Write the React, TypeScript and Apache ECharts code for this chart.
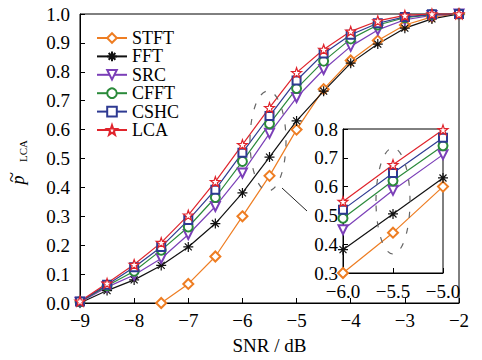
import React, { useEffect, useRef } from "react";
import * as echarts from "echarts";

const snr = [-9, -8.5, -8, -7.5, -7, -6.5, -6, -5.5, -5, -4.5, -4, -3.5, -3, -2.5, -2];
const stft = [null, null, null, 0.0, 0.066, 0.161, 0.3, 0.44, 0.6, 0.74, 0.839, 0.908, 0.962, 0.99, 1.0];
const fft = [0.0, 0.043, 0.08, 0.13, 0.194, 0.275, 0.381, 0.505, 0.63, 0.733, 0.83, 0.896, 0.951, 0.983, 1.0];
const src = [0.003, 0.055, 0.097, 0.154, 0.237, 0.334, 0.45, 0.587, 0.711, 0.808, 0.888, 0.945, 0.98, 0.995, 1.0];
const cfft = [0.004, 0.06, 0.11, 0.183, 0.263, 0.365, 0.49, 0.62, 0.742, 0.837, 0.914, 0.962, 0.987, 0.998, 1.0];
const cshc = [0.005, 0.063, 0.124, 0.194, 0.287, 0.392, 0.52, 0.647, 0.77, 0.863, 0.928, 0.968, 0.99, 0.999, 1.0];
const lca = [0.006, 0.068, 0.133, 0.209, 0.304, 0.42, 0.548, 0.676, 0.797, 0.877, 0.94, 0.976, 0.995, 1.0, 1.0];

const mainYTicks = [0, 1, 0.1];
const mainXTicks = [-9, -2, 1];
const insetXTicks = [-6, -5, 0.5];
const insetYTicks = [0.3, 0.8, 0.1];

const FONT = "'Liberation Serif', 'Times New Roman', serif";
const FS = 19;

const starPath =
  "path://M0,-1L0.235,-0.324L0.951,-0.309L0.38,0.124L0.588,0.809L0,0.4L-0.588,0.809L-0.38,0.124L-0.951,-0.309L-0.235,-0.324Z";
const asteriskPath = "path://M0,-1L0,1M-1,0L1,0M-0.7,-0.7L0.7,0.7M-0.7,0.7L0.7,-0.7";

const defs = [
  { name: "STFT", data: stft, color: "#EE7D22", symbol: "emptyDiamond", size: 10, rotate: 0, fill: null },
  { name: "FFT", data: fft, color: "#111111", symbol: asteriskPath, size: 10, rotate: 0, fill: "#111111" },
  { name: "SRC", data: src, color: "#7B3FB8", symbol: "emptyTriangle", size: 9, rotate: 180, fill: null },
  { name: "CFFT", data: cfft, color: "#2A8A3A", symbol: "emptyCircle", size: 9, rotate: 0, fill: null },
  { name: "CSHC", data: cshc, color: "#2E3A92", symbol: "emptyRect", size: 8, rotate: 0, fill: null },
  { name: "LCA", data: lca, color: "#E0242C", symbol: starPath, size: 10, rotate: 0, fill: "#ffffff" },
];

const minus = (s: string) => s.replace("-", "\u2212");

const rotText = (text: string, x: number, y: number, font: string) => ({
  type: "text",
  x,
  y,
  rotation: Math.PI / 2,
  style: {
    text,
    font,
    fill: "#000",
    align: "center",
    verticalAlign: "middle",
  },
  z: 10,
});

export default function App() {
  const ref = useRef<HTMLDivElement>(null);
  useEffect(() => {
    document.body.style.margin = "0";
    if (!ref.current) return;
    const chart = echarts.init(ref.current, undefined, { renderer: "svg" });

    const pairs = (arr: (number | null)[]) =>
      snr.map((x, i) => [x, arr[i]]).filter((p) => p[1] !== null);
    const insetPairs = (arr: (number | null)[]) =>
      pairs(arr).filter((p) => (p[0] as number) >= insetXTicks[0] && (p[0] as number) <= insetXTicks[1]);

    const mkSeries = (d: any, inset: boolean) => ({
      type: "line",
      name: d.name,
      xAxisIndex: inset ? 1 : 0,
      yAxisIndex: inset ? 1 : 0,
      data: inset ? insetPairs(d.data) : pairs(d.data),
      symbol: d.symbol,
      symbolSize: d.size,
      symbolRotate: d.rotate,
      showAllSymbol: true,
      clip: false,
      lineStyle: { color: d.color, width: 1.2 },
      itemStyle: d.fill
        ? { color: d.fill, borderColor: d.color, borderWidth: 1.2 }
        : { color: d.color, borderWidth: 1.2 },
      emphasis: { disabled: true },
      z: inset ? 8 : 3,
    });

    const axisCommon = {
      type: "value",
      splitLine: { show: false },
      axisLine: { show: true, lineStyle: { color: "#000", width: 1 } },
      axisTick: { show: true, inside: true, length: 5, lineStyle: { color: "#000" } },
    };

    chart.setOption({
      animation: false,
      backgroundColor: "#fff",
      grid: [
        { left: 80, right: 23, top: 14, bottom: 54, show: true, borderColor: "#000", borderWidth: 1 },
        {
          left: 343,
          top: 129,
          width: 100,
          height: 144,
          show: true,
          borderColor: "#000",
          borderWidth: 1,
          backgroundColor: "#fff",
          z: 5,
        },
      ],
      legend: {
        orient: "vertical",
        left: 91,
        top: 24,
        itemWidth: 30,
        itemHeight: 12,
        itemGap: 0.4,
        data: defs.map((d) => d.name),
        textStyle: { fontFamily: FONT, fontSize: 18, color: "#000", lineHeight: 18 },
        selectedMode: false,
      },
      xAxis: [
        {
          ...axisCommon,
          gridIndex: 0,
          min: mainXTicks[0],
          max: mainXTicks[1],
          interval: mainXTicks[2],
          name: "SNR / dB",
          nameLocation: "middle",
          nameGap: 33,
          nameTextStyle: { fontFamily: FONT, fontSize: FS, color: "#000" },
          axisLabel: {
            fontFamily: FONT,
            fontSize: FS,
            color: "#000",
            margin: 8,
            formatter: (v: number) => minus(String(v)),
          },
        },
        {
          ...axisCommon,
          gridIndex: 1,
          min: insetXTicks[0],
          max: insetXTicks[1],
          interval: insetXTicks[2],
          z: 6,
          axisLabel: {
            fontFamily: FONT,
            fontSize: FS,
            color: "#000",
            margin: 9,
            formatter: (v: number) => minus(v.toFixed(1)),
          },
        },
      ],
      yAxis: [
        {
          ...axisCommon,
          gridIndex: 0,
          min: mainYTicks[0],
          max: mainYTicks[1],
          interval: mainYTicks[2],
          axisLabel: {
            fontFamily: FONT,
            fontSize: FS,
            color: "#000",
            margin: 10,
            formatter: (v: number) => v.toFixed(1),
          },
        },
        {
          ...axisCommon,
          gridIndex: 1,
          min: insetYTicks[0],
          max: insetYTicks[1],
          interval: insetYTicks[2],
          z: 6,
          axisLabel: {
            fontFamily: FONT,
            fontSize: FS,
            color: "#000",
            margin: 5,
            formatter: (v: number) => v.toFixed(1),
          },
        },
      ],
      series: [...defs.map((d) => mkSeries(d, false)), ...defs.map((d) => mkSeries(d, true))],
      graphic: [
        {
          type: "ellipse",
          shape: { cx: 268, cy: 141, rx: 18, ry: 50 },
          style: { fill: "none", stroke: "#666", lineWidth: 1.2, lineDash: [6, 10] },
          z: 10,
          silent: true,
        },
        {
          type: "ellipse",
          shape: { cx: 393, cy: 201, rx: 17, ry: 53 },
          style: { fill: "none", stroke: "#666", lineWidth: 1.2, lineDash: [6, 10] },
          z: 10,
          silent: true,
        },
        {
          type: "line",
          shape: { x1: 282, y1: 188, x2: 307, y2: 211 },
          style: { stroke: "#222", lineWidth: 1 },
          z: 10,
          silent: true,
        },
        rotText("p", 18, 180, `italic 18px ${FONT}`),
        rotText("~", 11.5, 177, `19px ${FONT}`),
        rotText("LCA", 23, 151, `11px ${FONT}`),
      ],
    });
    return () => chart.dispose();
  }, []);
  return <div ref={ref} style={{ width: 482, height: 360 }} />;
}
